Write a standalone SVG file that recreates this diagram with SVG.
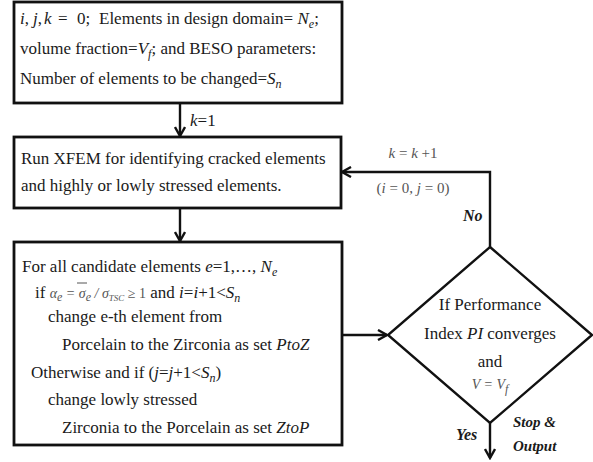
<svg xmlns="http://www.w3.org/2000/svg" width="593" height="462" viewBox="0 0 593 462">
  <style>
    .box { fill: #fff; stroke: #111; stroke-width: 2.8; }
    .dia { fill: #fff; stroke: #111; stroke-width: 2.4; }
    .wire { fill: none; stroke: #111; stroke-width: 2.4; }
    text { font-family: "Liberation Serif", "Times New Roman", serif; font-size: 17px; fill: #1a1a1a; }
    .it { font-style: italic; }
    .math { font-size: 14px; fill: #555; font-style: italic; }
    .lbl { font-size: 15px; fill: #555; }
    .bi { font-weight: bold; font-style: italic; font-size: 16px; }
    .sub { font-size: 12px; }
  </style>
  <defs>
    <marker id="chev" viewBox="0 0 12 12" refX="10" refY="6" markerWidth="12" markerHeight="12" markerUnits="userSpaceOnUse" orient="auto">
      <path d="M1,1 L10,6 L1,11" fill="none" stroke="#111" stroke-width="2.4"/>
    </marker>
  </defs>

  <!-- initialisation -->
  <g id="init">
    <rect class="box" x="14" y="2" width="328" height="101"/>
    <text y="24"><tspan x="20" class="it">i</tspan><tspan>,</tspan><tspan x="33" class="it">j</tspan><tspan>,</tspan><tspan x="44" class="it">k</tspan><tspan x="58">=</tspan><tspan x="77">0;</tspan><tspan x="99">Elements in design domain= </tspan><tspan class="it">N</tspan><tspan class="it sub" dy="4">e</tspan><tspan dy="-4">;</tspan></text>
    <text x="20" y="54">volume fraction=<tspan class="it">V</tspan><tspan class="it sub" dy="4">f</tspan><tspan dy="-4">; and BESO parameters:</tspan></text>
    <text x="20" y="84">Number of elements to be changed=<tspan class="it">S</tspan><tspan class="it sub" dy="4">n</tspan></text>
  </g>

  <!-- XFEM analysis -->
  <g id="xfem">
    <rect class="box" x="14" y="137" width="327" height="71"/>
    <text x="21" y="164">Run XFEM for identifying cracked elements</text>
    <text x="21" y="191">and highly or lowly stressed elements.</text>
  </g>

  <!-- element update -->
  <g id="update">
    <rect class="box" x="14" y="242" width="328" height="203"/>
    <text x="22" y="272">For all candidate elements <tspan class="it">e</tspan>=1,…, <tspan class="it">N</tspan><tspan class="it sub" dy="4">e</tspan></text>
    <text x="35" y="298">if <tspan class="math">α</tspan><tspan class="math sub" dy="3">e</tspan><tspan class="math" dy="-3"> = σ</tspan><tspan class="math sub" dy="3">e</tspan><tspan class="math" dy="-3"> / σ</tspan><tspan class="math sub" dy="3" style="font-size:9px">TSC</tspan><tspan class="math" dy="-3" style="font-style:normal"> ≥ 1</tspan> and <tspan class="it">i</tspan>=<tspan class="it">i</tspan>+1&lt;<tspan class="it">S</tspan><tspan class="it sub" dy="4">n</tspan></text>
    <line x1="77" y1="283" x2="87" y2="283" stroke="#555" stroke-width="1"/>
    <text x="48" y="322">change e-th element from</text>
    <text x="62" y="350">Porcelain to the Zirconia as set <tspan class="it">PtoZ</tspan></text>
    <text x="31" y="378">Otherwise and if (<tspan class="it">j</tspan>=<tspan class="it">j</tspan>+1&lt;<tspan class="it">S</tspan><tspan class="it sub" dy="4">n</tspan><tspan dy="-4">)</tspan></text>
    <text x="48" y="405">change lowly stressed</text>
    <text x="62" y="433">Zirconia to the Porcelain as set <tspan class="it">ZtoP</tspan></text>
  </g>

  <!-- convergence check -->
  <g id="check">
    <polygon class="dia" points="490,247 592,335 490,423 388,335"/>
    <text x="490" y="310" text-anchor="middle">If Performance</text>
    <text x="490" y="339" text-anchor="middle">Index <tspan class="it">PI</tspan> converges</text>
    <text x="490" y="367" text-anchor="middle">and</text>
    <text x="490" y="389" text-anchor="middle" class="math"><tspan>V = V</tspan><tspan class="sub" dy="4">f</tspan></text>
  </g>

  <!-- connectors -->
  <g id="connectors">
    <line class="wire" x1="180" y1="103" x2="180" y2="136" marker-end="url(#chev)"/>
    <line class="wire" x1="180" y1="208" x2="180" y2="241" marker-end="url(#chev)"/>
    <line class="wire" x1="342" y1="335" x2="387" y2="335" marker-end="url(#chev)"/>
    <polyline class="wire" points="490,247 490,172 342,172" marker-end="url(#chev)"/>
    <line class="wire" x1="490" y1="423" x2="490" y2="458" marker-end="url(#chev)"/>
    <text x="190" y="126"><tspan class="it">k</tspan>=1</text>
    <text x="413" y="158" text-anchor="middle" class="lbl"><tspan class="it">k</tspan> = <tspan class="it">k</tspan> +1</text>
    <text x="413" y="193" text-anchor="middle" class="lbl">(<tspan class="it">i</tspan> = 0, <tspan class="it">j</tspan> = 0)</text>
    <text x="463" y="221" class="bi">No</text>
    <text x="456" y="440" class="bi">Yes</text>
    <text x="513" y="427" class="bi" style="font-size:15px">Stop &amp;</text>
    <text x="513" y="451" class="bi" style="font-size:15px">Output</text>
  </g>
</svg>
